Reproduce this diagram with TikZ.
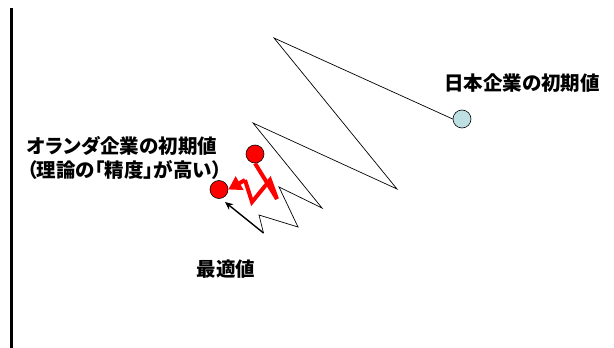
\documentclass[tikz,border=0pt]{standalone}
\usepackage{fontspec}
\newfontfamily\cjk{Noto Sans CJK JP}[RawFeature=+palt]
\usetikzlibrary{arrows.meta}
\definecolor{lightcyan}{RGB}{190,224,226}
\tikzset{
  lbl/.style={font=\cjk\bfseries\fontsize{19.5}{22}\selectfont, inner sep=0pt},
  pt/.style={circle, draw=black, line width=0.6pt, minimum size=18pt, inner sep=0pt},
  redpt/.style={pt, fill=red},
  bluept/.style={pt, fill=lightcyan},
  zig/.style={draw=black, line width=0.7pt},
  redzig/.style={draw=red, line width=4pt, line join=miter},
  blackarrow/.style={draw=black, line width=1.4pt, -{Stealth[length=8pt,width=7pt]}},
}
\begin{document}
\begin{tikzpicture}[x=1pt,y=-1pt]
\useasboundingbox (0,0) rectangle (614,348);
% axis line
\coordinate (axtop) at (11.7,8);
\coordinate (axbot) at (11.7,348);
\draw[line width=2.8pt] (axtop) -- (axbot);
% points
\node[bluept] (jp) at (462,119) {};
\node[redpt] (nl) at (255,154) {};
\node[redpt] (opt) at (219,189.5) {};
% black zigzag path
\coordinate (b1) at (274,38);
\coordinate (b2) at (397,189);
\coordinate (b3) at (253,123);
\coordinate (b4) at (322,208);
\coordinate (b5) at (279,187);
\coordinate (b6) at (298,227);
\coordinate (b7) at (259,215);
\coordinate (b8) at (263.5,233);
\coordinate (btip) at (225,202);
\draw[zig] (jp.west) -- (b1) -- (b2) -- (b3) -- (b4) -- (b5) -- (b6) -- (b7) -- (b8);
\draw[blackarrow] (b8) -- (btip);
% red zigzag path
\coordinate (r1) at (277,199);
\coordinate (r2) at (270,180);
\coordinate (r3) at (252,202);
\coordinate (r4) at (245,180);
\draw[redzig] (nl.south) -- (r1) -- (r2) -- (r3) -- (r4);
\draw[draw=red, line width=4pt, -{Triangle[length=13pt,width=15pt]}] (r4) -- (opt.east);
% labels
\node[lbl, anchor=west] (ljp) at (444,83) {日本企業の初期値};
\node[lbl, anchor=west] (lnl1) at (27,146) {オランダ企業の初期値};
\node[lbl, anchor=west] (lnl2) at (27,170) {（理論の「精度」が高い）};
\node[lbl] (lopt) at (226,269) {最適値};
\end{tikzpicture}
\end{document}
